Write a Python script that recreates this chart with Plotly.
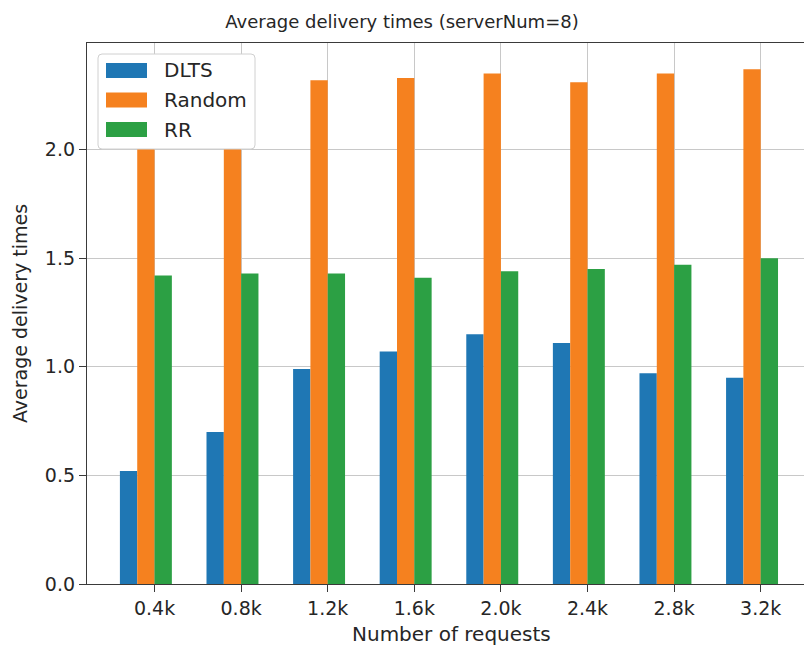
import plotly.graph_objects as go

# Data
requests = ["0.4k", "0.8k", "1.2k", "1.6k", "2.0k", "2.4k", "2.8k", "3.2k"]
dlts = [0.52, 0.70, 0.99, 1.07, 1.15, 1.11, 0.97, 0.95]
random_vals = [2.28, 2.30, 2.32, 2.33, 2.35, 2.31, 2.35, 2.37]
rr = [1.42, 1.43, 1.43, 1.41, 1.44, 1.45, 1.47, 1.50]

series_names = ["DLTS", "Random", "RR"]
series_values = [dlts, random_vals, rr]
series_colors = ["#1f77b4", "#f5811f", "#2ca044"]

positions = list(range(len(requests)))
bar_width = 0.2
bar_offsets = [-0.4, -0.2, 0.0]

W, H = 804, 648
L, R, T, B = 87, 0, 43, 64
FONT = "DejaVu Sans"
TXT = "#262626"
AX = "#3a3a3a"

fig = go.Figure()
for name, vals, color, off in zip(series_names, series_values, series_colors, bar_offsets):
    fig.add_trace(go.Bar(
        x=positions, y=vals, name=name,
        width=bar_width, offset=off,
        marker=dict(color=color, line=dict(width=0)),
        showlegend=False,
    ))

# pixel -> paper helpers for the legend box
pw, ph = W - L - R, H - T - B
def px(x):
    return (x - L) / pw
def py(y):
    return (H - B - y) / ph

def rounded_rect(x0, y0, x1, y1, r):
    # x/y in pixels, y grows downward
    pts = [
        f"M{px(x0 + r)},{py(y0)}",
        f"L{px(x1 - r)},{py(y0)}",
        f"Q{px(x1)},{py(y0)} {px(x1)},{py(y0 + r)}",
        f"L{px(x1)},{py(y1 - r)}",
        f"Q{px(x1)},{py(y1)} {px(x1 - r)},{py(y1)}",
        f"L{px(x0 + r)},{py(y1)}",
        f"Q{px(x0)},{py(y1)} {px(x0)},{py(y1 - r)}",
        f"L{px(x0)},{py(y0 + r)}",
        f"Q{px(x0)},{py(y0)} {px(x0 + r)},{py(y0)}",
        "Z",
    ]
    return " ".join(pts)

box = (98, 54, 255, 149)
shapes = [
    dict(type="rect", xref="paper", yref="paper",
         x0=px(box[0] + 1), x1=px(box[2] - 1), y0=py(box[3] - 1), y1=py(box[1] + 1),
         fillcolor="white", line=dict(width=0), layer="above"),
    dict(type="path", xref="paper", yref="paper",
         path=rounded_rect(*box, 4),
         fillcolor="white",
         line=dict(color="#d0d0d0", width=1),
         layer="above"),
]
annotations = []
row_centers = [70.5, 100, 129.5]
for name, color, yc in zip(series_names, series_colors, row_centers):
    shapes.append(dict(
        type="rect", xref="paper", yref="paper",
        x0=px(106), x1=px(147), y0=py(yc + 7.5), y1=py(yc - 7.5),
        fillcolor=color, line=dict(width=0), layer="above",
    ))
    annotations.append(dict(
        xref="paper", yref="paper", x=px(162), y=py(yc),
        xanchor="left", yanchor="middle", text=name, showarrow=False,
        font=dict(family=FONT, size=20, color=TXT),
    ))

# x-axis label
annotations.append(dict(
    xref="paper", yref="paper", x=px(451), y=py(634),
    xanchor="center", yanchor="middle", text="Number of requests",
    showarrow=False, font=dict(family=FONT, size=20, color=TXT),
))

fig.update_layout(
    width=W, height=H,
    margin=dict(l=L, r=R, t=T, b=B, autoexpand=False),
    paper_bgcolor="white", plot_bgcolor="white",
    barmode="overlay",
    font=dict(family=FONT, size=18, color=TXT),
    title=dict(
        text="Average delivery times (serverNum=8)",
        x=0.5, xref="container", xanchor="center",
        y=1 - 22 / H, yref="container", yanchor="middle",
        font=dict(family=FONT, size=18, color=TXT),
    ),
    shapes=shapes,
    annotations=annotations,
)

fig.update_xaxes(
    range=[-0.78, 7.5],
    tickmode="array", tickvals=positions, ticktext=requests,
    showgrid=True, gridcolor="#c8c8c8", gridwidth=1.2,
    showline=True, linecolor=AX, linewidth=1.25, mirror=True,
    ticks="outside", ticklen=7, tickwidth=1.25, tickcolor=AX,
    zeroline=False,
    tickfont=dict(family=FONT, size=19, color=TXT),
)
fig.update_yaxes(
    range=[0, 2.491],
    tickmode="array", tickvals=[0, 0.5, 1.0, 1.5, 2.0],
    ticktext=["0.0", "0.5", "1.0", "1.5", "2.0"],
    showgrid=True, gridcolor="#c8c8c8", gridwidth=1.2,
    showline=True, linecolor=AX, linewidth=1.25,
    ticks="outside", ticklen=7, tickwidth=1.25, tickcolor=AX,
    zeroline=False,
    tickfont=dict(family=FONT, size=19, color=TXT),
    title=dict(text="Average delivery times", standoff=12,
               font=dict(family=FONT, size=19, color=TXT)),
)

fig.write_html("out.html")
